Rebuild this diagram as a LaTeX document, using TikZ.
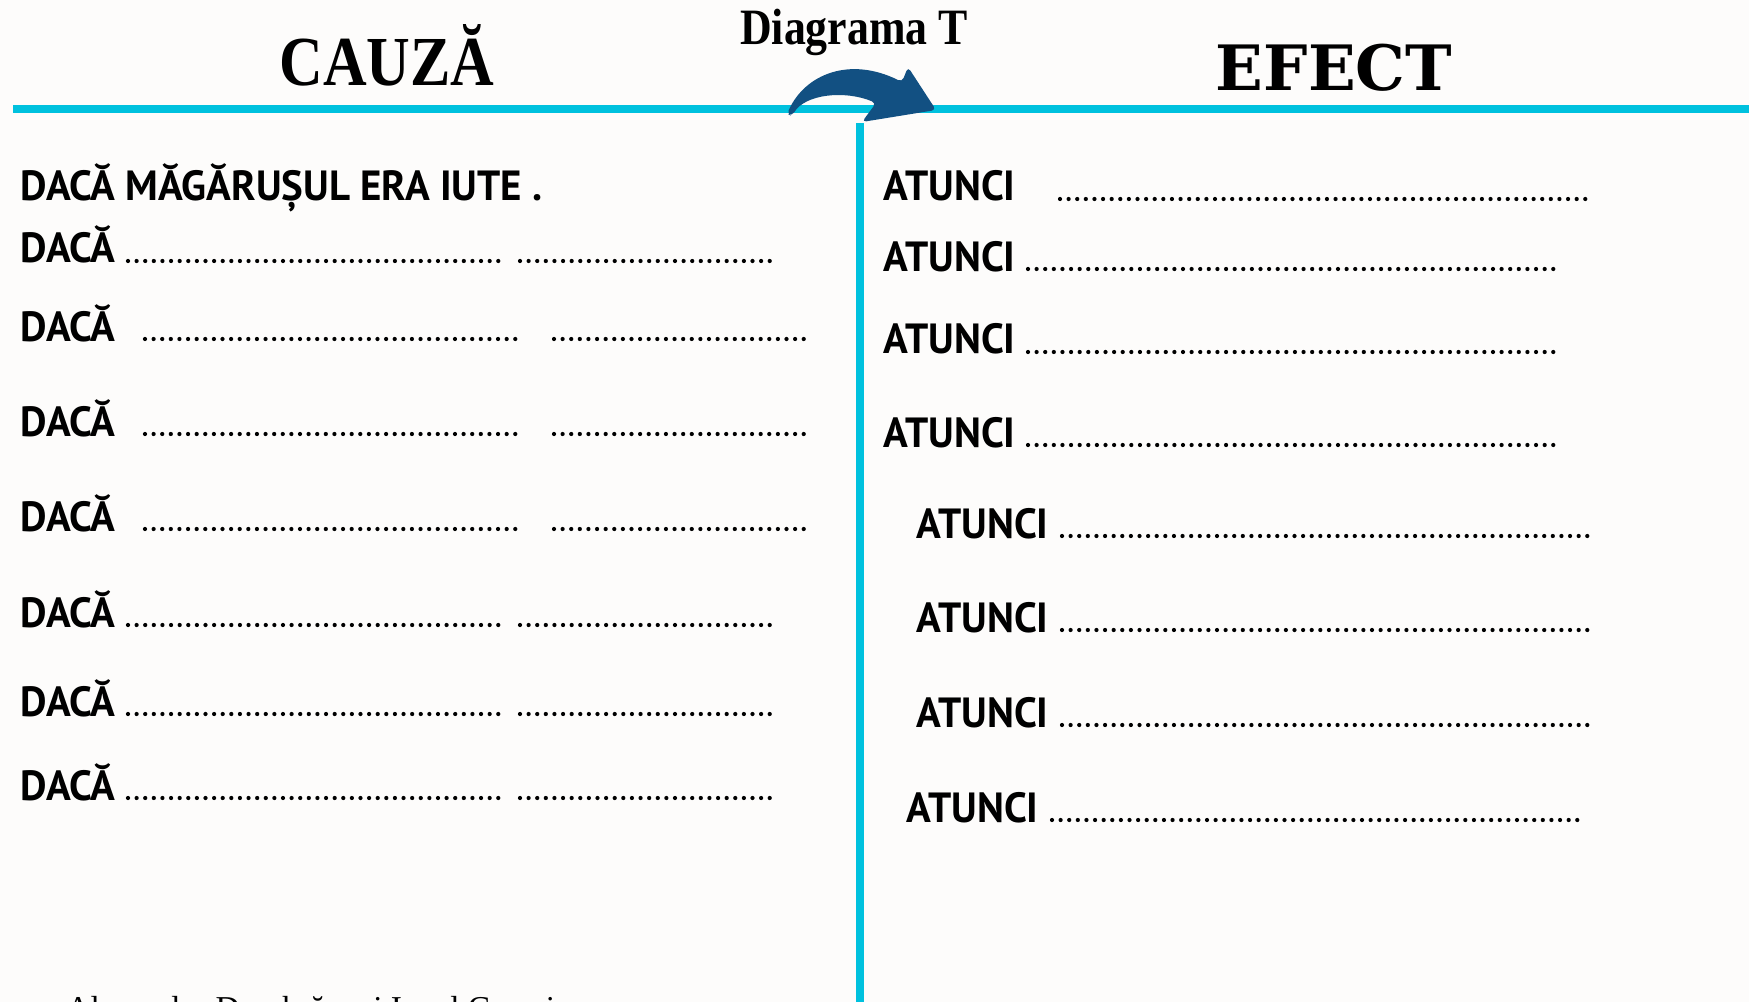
\documentclass[tikz,border=0pt]{standalone}
\usepackage{fontspec}
\setmainfont[FakeStretch=0.97]{PT Sans}
\newfontfamily\titlefont[FakeStretch=0.86]{Liberation Serif}
\newfontfamily\efectfont{DejaVu Serif}
\newfontfamily\notefont{Liberation Serif}
\definecolor{tcyan}{RGB}{0,193,222}
\definecolor{tblue}{RGB}{18,80,130}
\definecolor{paper}{RGB}{253,252,251}

\begin{document}
\begin{tikzpicture}[
    row/.style={anchor=base west, inner sep=0pt, font=\bfseries\fontsize{12}{14}\selectfont},
    dotfill/.style={line width=1.2pt, line cap=round, dash pattern=on 0pt off 2.45pt},
    tline/.style={tcyan, line width=2pt}]
        \useasboundingbox (0,0) rectangle (17.49,-10.02);
        \clip (0,0) rectangle (17.49,-10.02);
        \fill[paper] (0,0) rectangle (17.49,-10.02);

        % titles
        \node[anchor=base, font=\titlefont\bfseries\fontsize{20}{24}\selectfont] (cauza) at (3.87,-0.86) {CAUZĂ};
        \node[anchor=base, font=\efectfont\bfseries\fontsize{17.8}{22}\selectfont] (efect) at (13.34,-0.91) {EFECT};
        \node[anchor=base, font=\titlefont\bfseries\fontsize{14.5}{17}\selectfont] (titlu) at (8.54,-0.45) {Diagrama T};

        % the T
        \coordinate (tleft) at (0.13,-1.09);
        \coordinate (tright) at (17.49,-1.09);
        \coordinate (ttop) at (8.60,-1.23);
        \coordinate (tbottom) at (8.60,-10.02);
        \draw[tline] (tleft) -- (tright);
        \draw[tline] (ttop) -- (tbottom);

        % curved arrow
        \fill[tblue, rounded corners=1.2pt] (7.87,-1.14) .. controls (8.05,-0.74) and (8.50,-0.56) .. (9.02,-0.82)
            -- (9.08,-0.67) -- (9.36,-1.10) -- (8.62,-1.22) -- (8.76,-1.03)
            .. controls (8.45,-0.90) and (8.05,-0.94) .. (7.92,-1.16) -- cycle;

        % cause column
        \node[row] (daca1) at (0.20,-2.01) {DACĂ MĂGĂRUȘUL ERA IUTE .};
        \node[row] (daca2) at (0.20,-2.63) {DACĂ};
        \draw[dotfill] (1.28,-2.61) -- (5.05,-2.61) (5.20,-2.61) -- (7.77,-2.61);
        \node[row] (daca3) at (0.20,-3.41) {DACĂ};
        \draw[dotfill] (1.45,-3.39) -- (5.23,-3.39) (5.54,-3.39) -- (8.12,-3.39);
        \node[row] (daca4) at (0.20,-4.36) {DACĂ};
        \draw[dotfill] (1.45,-4.34) -- (5.23,-4.34) (5.54,-4.34) -- (8.12,-4.34);
        \node[row] (daca5) at (0.20,-5.31) {DACĂ};
        \draw[dotfill] (1.45,-5.29) -- (5.23,-5.29) (5.54,-5.29) -- (8.12,-5.29);
        \node[row] (daca6) at (0.20,-6.27) {DACĂ};
        \draw[dotfill] (1.28,-6.25) -- (5.05,-6.25) (5.20,-6.25) -- (7.77,-6.25);
        \node[row] (daca7) at (0.20,-7.16) {DACĂ};
        \draw[dotfill] (1.28,-7.14) -- (5.05,-7.14) (5.20,-7.14) -- (7.77,-7.14);
        \node[row] (daca8) at (0.20,-8.00) {DACĂ};
        \draw[dotfill] (1.28,-7.98) -- (5.05,-7.98) (5.20,-7.98) -- (7.77,-7.98);

        % effect column
        \node[row] (atunci1) at (8.83,-2.01) {ATUNCI};
        \draw[dotfill] (10.60,-1.99) -- (15.87,-1.99);
        \node[row] (atunci2) at (8.83,-2.71) {ATUNCI};
        \draw[dotfill] (10.28,-2.69) -- (15.57,-2.69);
        \node[row] (atunci3) at (8.83,-3.54) {ATUNCI};
        \draw[dotfill] (10.28,-3.52) -- (15.57,-3.52);
        \node[row] (atunci4) at (8.83,-4.47) {ATUNCI};
        \draw[dotfill] (10.28,-4.45) -- (15.57,-4.45);
        \node[row] (atunci5) at (9.16,-5.38) {ATUNCI};
        \draw[dotfill] (10.62,-5.36) -- (15.90,-5.36);
        \node[row] (atunci6) at (9.16,-6.32) {ATUNCI};
        \draw[dotfill] (10.62,-6.30) -- (15.90,-6.30);
        \node[row] (atunci7) at (9.16,-7.27) {ATUNCI};
        \draw[dotfill] (10.62,-7.25) -- (15.90,-7.25);
        \node[row] (atunci8) at (9.06,-8.22) {ATUNCI};
        \draw[dotfill] (10.52,-8.20) -- (15.79,-8.20);

        % author line, cut by the page edge
        \node[anchor=base west, inner sep=0pt, font=\notefont\fontsize{9.5}{11}\selectfont] (autor) at (0.33,-10.19) {\textbullet\hspace{6pt}Alexandru Dumbrăveni Ionel Cosmin};
      \end{tikzpicture}
\end{document}
